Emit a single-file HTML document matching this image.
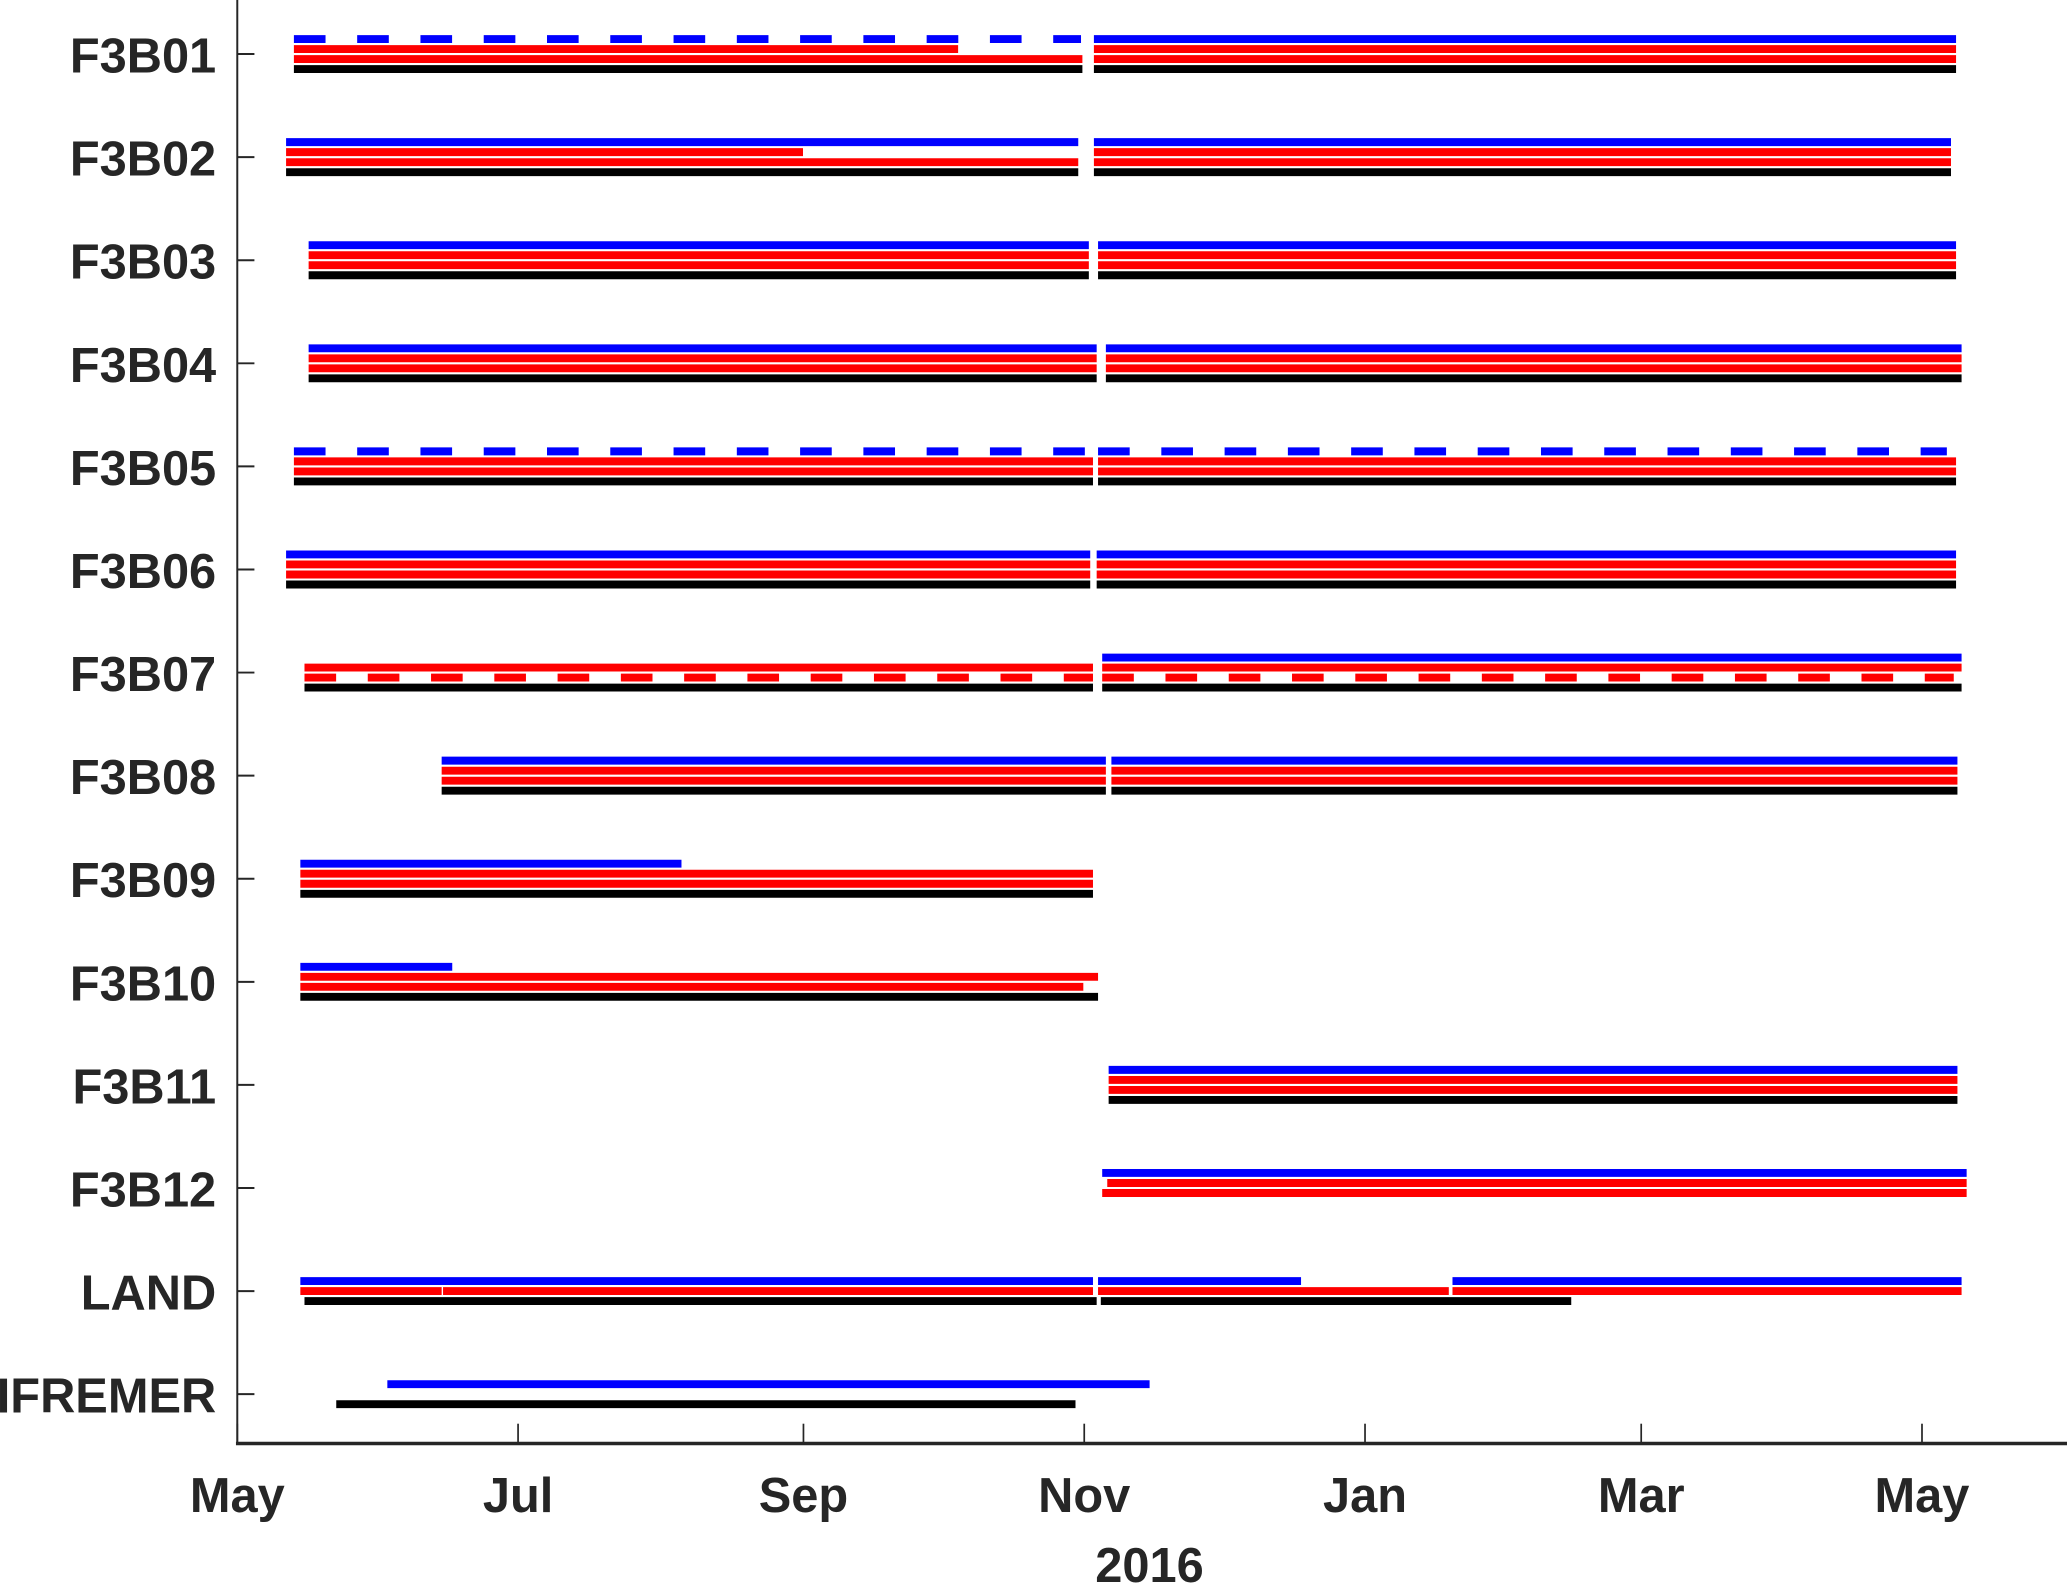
<!DOCTYPE html>
<html><head><meta charset="utf-8"><style>
html,body{margin:0;padding:0;background:#fff;}
svg{display:block;}
text{font-family:"Liberation Sans",Arial,sans-serif;font-weight:bold;fill:#262626;}
</style></head><body>
<svg id="chart" xmlns="http://www.w3.org/2000/svg" width="2067" height="1584" viewBox="0 0 1568 1201.6">
<rect x="0" y="0" width="1568" height="1201.6" fill="#fff"/>
<g id="axes"></g>
<g id="marks"></g>
</svg>
<script>
// days since 2015-05-01
const rowLabels = ["F3B01","F3B02","F3B03","F3B04","F3B05","F3B06","F3B07","F3B08","F3B09","F3B10","F3B11","F3B12","LAND","IFREMER"];
const blueSeg = [
 [[12.3,183.3,1],[186.1,373.4,0]],
 [[10.6,182.7,0],[186.1,372.3,0]],
 [[15.5,185,0],[187,373.4,0]],
 [[15.5,186.7,0],[188.7,374.6,0]],
 [[12.3,185.9,1],[187,371.4,1]],
 [[10.6,185.3,0],[186.7,373.4,0]],
 [[187.9,374.6,0]],
 [[44.4,188.7,0],[189.9,373.7,0]],
 [[13.7,96.5,0]],
 [[13.7,46.7,0]],
 [[189.3,373.7,0]],
 [[187.9,375.7,0]],
 [[13.7,185.9,0],[187,231.1,0],[264,374.6,0]],
 [[32.6,198.2,0]]
];
const red1Seg = [
 [[12.3,156.6,0],[186.1,373.4,0]],
 [[10.6,122.9,0],[186.1,372.3,0]],
 [[15.5,185,0],[187,373.4,0]],
 [[15.5,186.7,0],[188.7,374.6,0]],
 [[12.3,185.9,0],[187,373.4,0]],
 [[10.6,185.3,0],[186.7,373.4,0]],
 [[14.6,185.9,0],[187.9,374.6,0]],
 [[44.4,188.7,0],[189.9,373.7,0]],
 [[13.7,185.9,0]],
 [[13.7,187,0]],
 [[189.3,373.7,0]],
 [[189,375.7,0]],
 [[13.7,44.4,0],[44.7,185.9,0],[187,263.2,0],[264,374.6,0]],
 []
];
const red2Seg = [
 [[12.3,183.6,0],[186.1,373.4,0]],
 [[10.6,182.7,0],[186.1,372.3,0]],
 [[15.5,185,0],[187,373.4,0]],
 [[15.5,186.7,0],[188.7,374.6,0]],
 [[12.3,185.9,0],[187,373.4,0]],
 [[10.6,185.3,0],[186.7,373.4,0]],
 [[14.6,185.9,1],[187.9,372.9,1]],
 [[44.4,188.7,0],[189.9,373.7,0]],
 [[13.7,185.9,0]],
 [[13.7,183.8,0]],
 [[189.3,373.7,0]],
 [[187.9,375.7,0]],
 [],
 []
];
const blackSeg = [
 [[12.3,183.6,0],[186.1,373.4,0]],
 [[10.6,182.7,0],[186.1,372.3,0]],
 [[15.5,185,0],[187,373.4,0]],
 [[15.5,186.7,0],[188.7,374.6,0]],
 [[12.3,185.9,0],[187,373.4,0]],
 [[10.6,185.3,0],[186.7,373.4,0]],
 [[14.6,185.9,0],[187.9,374.6,0]],
 [[44.4,188.7,0],[189.9,373.7,0]],
 [[13.7,185.9,0]],
 [[13.7,187,0]],
 [[189.3,373.7,0]],
 [],
 [[14.6,186.7,0],[187.6,289.8,0]],
 [[21.5,182.1,0]]
];
const xTickLabels = ["May","Jul","Sep","Nov","Jan","Mar","May"];
const xTickDays = [0,61,123,184,245,305,366];

const NS="http://www.w3.org/2000/svg";
const X0=180, PXD=1278/366, Y0=41, ROWH=78.2;
const xScale = d => X0 + d*PXD;
const yScale = i => Y0 + i*ROWH;
const axes=document.getElementById('axes'), marks=document.getElementById('marks');
function mk(tag, attrs, parent){const e=document.createElementNS(NS,tag);for(const k in attrs)e.setAttribute(k,attrs[k]);parent.appendChild(e);return e;}

let e=mk('line',{x1:180,y1:0,x2:180,y2:1096,stroke:'#262626','stroke-width':1.5},axes);


e=mk('line',{x1:179,y1:1095,x2:1568,y2:1095,stroke:'#262626','stroke-width':2.6},axes);



xTickDays.forEach((d,i)=>{
  const x=xScale(d);
  const t=mk('line',{x1:x,y1:1095,x2:x,y2:1080,stroke:'#262626','stroke-width':1.3},axes);
  
  
  const l=mk('text',{x:x,y:1147,'text-anchor':'middle','font-size':37},axes);
  l.textContent=xTickLabels[i];
  
  
});
e=mk('text',{x:872,y:1200,'text-anchor':'middle','font-size':37},axes);
e.textContent='2016';



rowLabels.forEach((lab,i)=>{
  const y=yScale(i);
  const t=mk('line',{x1:180,y1:y,x2:193,y2:y,stroke:'#262626','stroke-width':1.5},axes);
  
  
  const l=mk('text',{x:164,y:y+14,'text-anchor':'end','font-size':37},axes);
  l.textContent=lab;
  
  
});

function drawSeries(arr, color, offs4, offs3, name){
  arr.forEach((segs,i)=>{
    const three = i>=12;
    const off = three ? offs3 : offs4;
    if(off===null) return;
    const y=yScale(i)+off;
    segs.forEach(s=>{
      const a={x1:xScale(s[0]),y1:y,x2:xScale(s[1]),y2:y,stroke:color,'stroke-width':6};
      if(s[2]) a['stroke-dasharray']='24 24';
      const l=mk('line',a,marks);
      
      
    });
  });
}
drawSeries(blueSeg,'#0000ff',-11.4,-7.6,'blue-segment');
drawSeries(red1Seg,'#ff0000',-3.8,0,'red-segment-1');
drawSeries(red2Seg,'#ff0000',3.8,null,'red-segment-2');
drawSeries(blackSeg,'#000000',11.4,7.6,'black-segment');
</script>
</body></html>
